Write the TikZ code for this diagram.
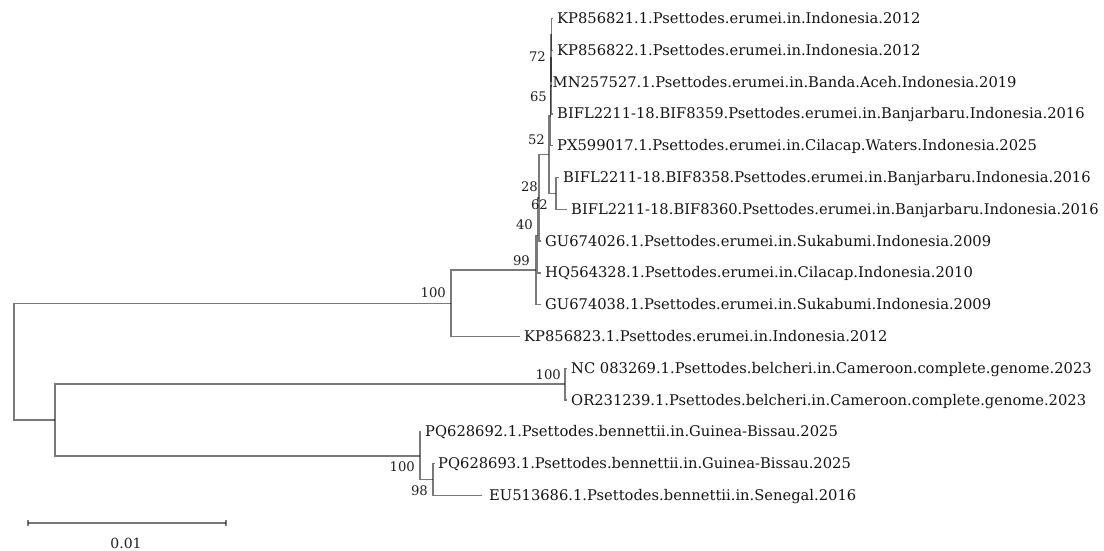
\documentclass[tikz,border=0pt]{standalone}
\usepackage{fontspec}
\setmainfont{DejaVu Serif}
\begin{document}
\begin{tikzpicture}[x=1pt,y=-1pt,
  branch/.style={line width=1.5pt, draw=black, draw opacity=0.52},
  taxon/.style={anchor=base west, inner sep=0pt, text=black!92, font=\fontsize{14.7}{16}\selectfont},
  boot/.style={anchor=base east, inner sep=0pt, text=black!88, font=\fontsize{13.2}{15}\selectfont},
  scalelbl/.style={anchor=base, inner sep=0pt, text=black!88, font=\fontsize{14}{16}\selectfont}]
\useasboundingbox (0,0) rectangle (1104,551);

% leaf tips
\coordinate (t1) at (553,18.5);
\coordinate (t2) at (553,50.3);
\coordinate (t3) at (551.2,82.1);
\coordinate (t4) at (553,113.9);
\coordinate (t5) at (553,145.7);
\coordinate (t6) at (559,177.5);
\coordinate (t7) at (567,209.3);
\coordinate (t8) at (541,241.1);
\coordinate (t9) at (541,272.9);
\coordinate (t10) at (541,304.7);
\coordinate (t11) at (520,336.5);
\coordinate (t12) at (567,368.3);
\coordinate (t13) at (567,400.1);
\coordinate (t14) at (421,431.9);
\coordinate (t15) at (435,463.7);
\coordinate (t16) at (482,495.5);

% internal nodes
\coordinate (U) at (551.5,34.4);
\coordinate (T) at (551.2,58.2);
\coordinate (S) at (550.9,86.15);
\coordinate (R) at (550.6,115.9);
\coordinate (N62) at (556,193.4);
\coordinate (Z) at (549.2,154.7);
\coordinate (Y) at (539,197.9);
\coordinate (X) at (537.6,235.4);
\coordinate (X99) at (536,270.05);
\coordinate (A) at (451,303.3);
\coordinate (C) at (565,384.2);
\coordinate (E) at (433,479.6);
\coordinate (D) at (420,455.75);
\coordinate (B) at (55,420);
\coordinate (root) at (14,361.6);

% branches
\draw[branch] (root) |- (A);
\draw[branch] (root) |- (B);
\draw[branch] (B) |- (C);
\draw[branch] (B) |- (D);
\draw[branch] (C) |- (t12);
\draw[branch] (C) |- (t13);
\draw[branch] (D) |- (t14);
\draw[branch] (D) |- (E);
\draw[branch] (E) |- (t15);
\draw[branch] (E) |- (t16);
\draw[branch] (A) |- (X99);
\draw[branch] (A) |- (t11);
\draw[branch] (X99) |- (X);
\draw[branch] (X99) |- (t10);
\draw[branch] (X) |- (Y);
\draw[branch] (X) |- (t9);
\draw[branch] (Y) |- (Z);
\draw[branch] (Y) |- (t8);
\draw[branch] (Z) |- (R);
\draw[branch] (Z) |- (N62);
\draw[branch] (N62) |- (t6);
\draw[branch] (N62) |- (t7);
\draw[branch] (R) |- (S);
\draw[branch] (R) |- (t5);
\draw[branch] (S) |- (T);
\draw[branch] (S) |- (t4);
\draw[branch] (T) |- (U);
\draw[branch] (T) |- (t3);
\draw[branch] (U) |- (t1);
\draw[branch] (U) |- (t2);

% taxon names
\node[taxon] (n1) at (557,23.5) {KP856821.1.Psettodes.erumei.in.Indonesia.2012};
\node[taxon] (n2) at (557,55.3) {KP856822.1.Psettodes.erumei.in.Indonesia.2012};
\node[taxon] (n3) at (552.5,87.1) {MN257527.1.Psettodes.erumei.in.Banda.Aceh.Indonesia.2019};
\node[taxon] (n4) at (557,118.9) {BIFL2211-18.BIF8359.Psettodes.erumei.in.Banjarbaru.Indonesia.2016};
\node[taxon] (n5) at (557,150.7) {PX599017.1.Psettodes.erumei.in.Cilacap.Waters.Indonesia.2025};
\node[taxon] (n6) at (563,182.5) {BIFL2211-18.BIF8358.Psettodes.erumei.in.Banjarbaru.Indonesia.2016};
\node[taxon] (n7) at (571,214.3) {BIFL2211-18.BIF8360.Psettodes.erumei.in.Banjarbaru.Indonesia.2016};
\node[taxon] (n8) at (545,246.1) {GU674026.1.Psettodes.erumei.in.Sukabumi.Indonesia.2009};
\node[taxon] (n9) at (545,277.9) {HQ564328.1.Psettodes.erumei.in.Cilacap.Indonesia.2010};
\node[taxon] (n10) at (545,309.7) {GU674038.1.Psettodes.erumei.in.Sukabumi.Indonesia.2009};
\node[taxon] (n11) at (524,341.5) {KP856823.1.Psettodes.erumei.in.Indonesia.2012};
\node[taxon] (n12) at (571,373.3) {NC 083269.1.Psettodes.belcheri.in.Cameroon.complete.genome.2023};
\node[taxon] (n13) at (571,405.1) {OR231239.1.Psettodes.belcheri.in.Cameroon.complete.genome.2023};
\node[taxon] (n14) at (425,436.9) {PQ628692.1.Psettodes.bennettii.in.Guinea-Bissau.2025};
\node[taxon] (n15) at (438,468.7) {PQ628693.1.Psettodes.bennettii.in.Guinea-Bissau.2025};
\node[taxon] (n16) at (489,500.5) {EU513686.1.Psettodes.bennettii.in.Senegal.2016};

% bootstrap values
\node[boot] (b72) at (546,62) {72};
\node[boot] (b65) at (547,102) {65};
\node[boot] (b52) at (545,144) {52};
\node[boot] (b28) at (538,191) {28};
\node[boot] (b62) at (548,209) {62};
\node[boot] (b40) at (533,229) {40};
\node[boot] (b99) at (530,265) {99};
\node[boot] (b100a) at (446,297) {100};
\node[boot] (b100c) at (561,379) {100};
\node[boot] (b100d) at (415,471) {100};
\node[boot] (b98) at (428,495) {98};

% scale bar
\coordinate (s1) at (28,523);
\coordinate (s2) at (226,523);
\draw[branch] (s1) -- (s2);
\draw[branch] ([yshift=-3pt]s1) -- ([yshift=3pt]s1);
\draw[branch] ([yshift=-3pt]s2) -- ([yshift=3pt]s2);
\node[scalelbl] (sl) at (126,548.5) {0.01};
\end{tikzpicture}
\end{document}
